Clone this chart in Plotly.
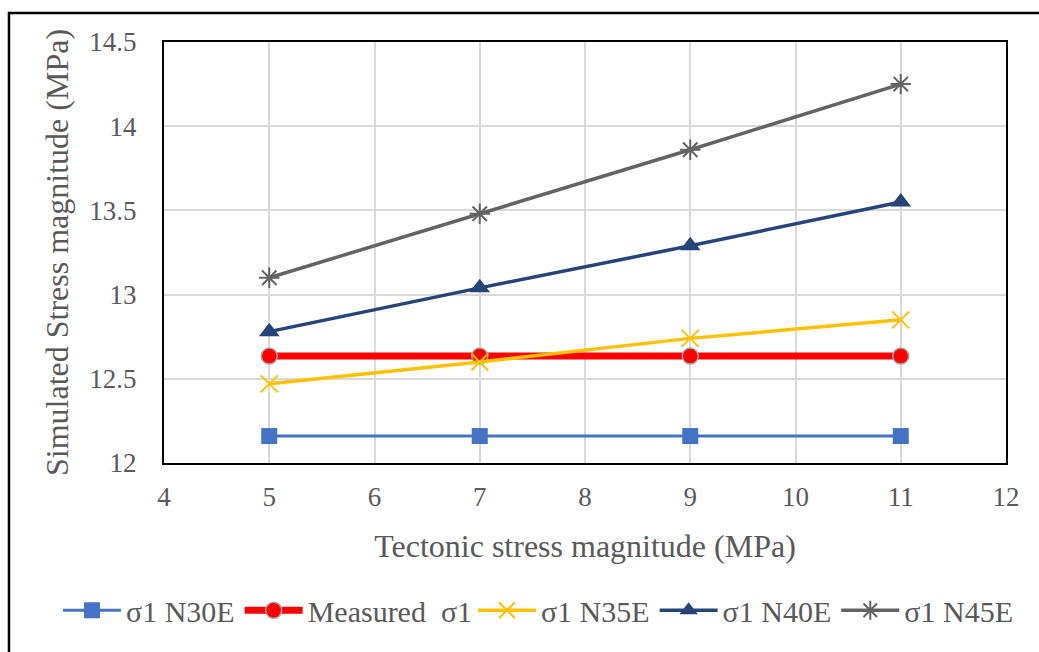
import plotly.graph_objects as go

tectonic = [5, 7, 9, 11]
n30e = [12.16, 12.16, 12.16, 12.16]
measured = [12.635, 12.635, 12.635, 12.635]
n35e = [12.47, 12.60, 12.74, 12.85]
n40e = [12.78, 13.04, 13.29, 13.55]
n45e = [13.10, 13.48, 13.86, 14.25]

FONT = "Liberation Serif"
GRAY = "#595959"

fig = go.Figure()
# first two entries go to the left legend block, the rest to the right block
fig.add_trace(go.Scatter(x=tectonic, y=n30e, name="σ1 N30E", mode="lines+markers",
                         legend="legend",
                         line=dict(color="#4472C4", width=3),
                         marker=dict(symbol="square", size=16, color="#4472C4")))
fig.add_trace(go.Scatter(x=tectonic, y=measured, name="Measured  σ1", mode="lines+markers",
                         legend="legend",
                         line=dict(color="#FF0000", width=7),
                         marker=dict(symbol="circle", size=16, color="#FF0000",
                                     line=dict(color="#A5A5A5", width=1.5))))
fig.add_trace(go.Scatter(x=tectonic, y=n35e, name="σ1 N35E", mode="lines+markers",
                         legend="legend2",
                         line=dict(color="#FFC000", width=3.5),
                         marker=dict(symbol="x-thin-open", size=17, color="#FFC000",
                                     line=dict(color="#FFC000", width=2))))
fig.add_trace(go.Scatter(x=tectonic, y=n40e, name="σ1 N40E", mode="lines+markers",
                         legend="legend2",
                         line=dict(color="#264478", width=3.5),
                         marker=dict(symbol="triangle-up", size=18, color="#264478")))
fig.add_trace(go.Scatter(x=tectonic, y=n45e, name="σ1 N45E", mode="lines+markers",
                         legend="legend2",
                         line=dict(color="#636363", width=3.5),
                         marker=dict(symbol="asterisk-open", size=17, color="#636363",
                                     line=dict(color="#636363", width=2))))

legend_common = dict(orientation="h", xref="container", yref="container",
                     xanchor="left", y=0.064, yanchor="middle",
                     font=dict(family=FONT, size=30, color=GRAY), tracegroupgap=0,
                     itemwidth=58, bgcolor="rgba(0,0,0,0)")

fig.update_layout(
    width=1039, height=652,
    margin=dict(l=164, r=33, t=42, b=189),
    paper_bgcolor="white", plot_bgcolor="white",
    font=dict(family=FONT, size=27, color=GRAY),
    showlegend=True,
    legend=dict(legend_common, x=0.0558),
    legend2=dict(legend_common, x=0.4552),
    xaxis=dict(range=[4, 12], dtick=1, showgrid=True, gridcolor="#D9D9D9", gridwidth=2,
               zeroline=False, showline=True, linecolor="black", linewidth=2, mirror=True,
               ticks="", ticklabelstandoff=9, automargin=False,
               tickfont=dict(family=FONT, size=27, color=GRAY),
               title=dict(text="Tectonic stress magnitude (MPa)", standoff=23,
                          font=dict(family=FONT, size=32, color=GRAY))),
    yaxis=dict(range=[12, 14.5], dtick=0.5, showgrid=True, gridcolor="#D9D9D9", gridwidth=2,
               zeroline=False, showline=True, linecolor="black", linewidth=2, mirror=True,
               ticks="", ticklabelstandoff=20, tickformat="~g", automargin=False,
               tickfont=dict(family=FONT, size=27, color=GRAY),
               title=dict(text="Simulated Stress magnitude (MPa)", standoff=11,
                          font=dict(family=FONT, size=32, color=GRAY))),
    shapes=[dict(type="rect", xref="paper", yref="paper",
                 x0=-0.1841, x1=1.2, y0=-0.6, y1=1.0689,
                 line=dict(color="black", width=2.5), fillcolor="rgba(0,0,0,0)", layer="below")],
)

fig.write_html("out.html")
